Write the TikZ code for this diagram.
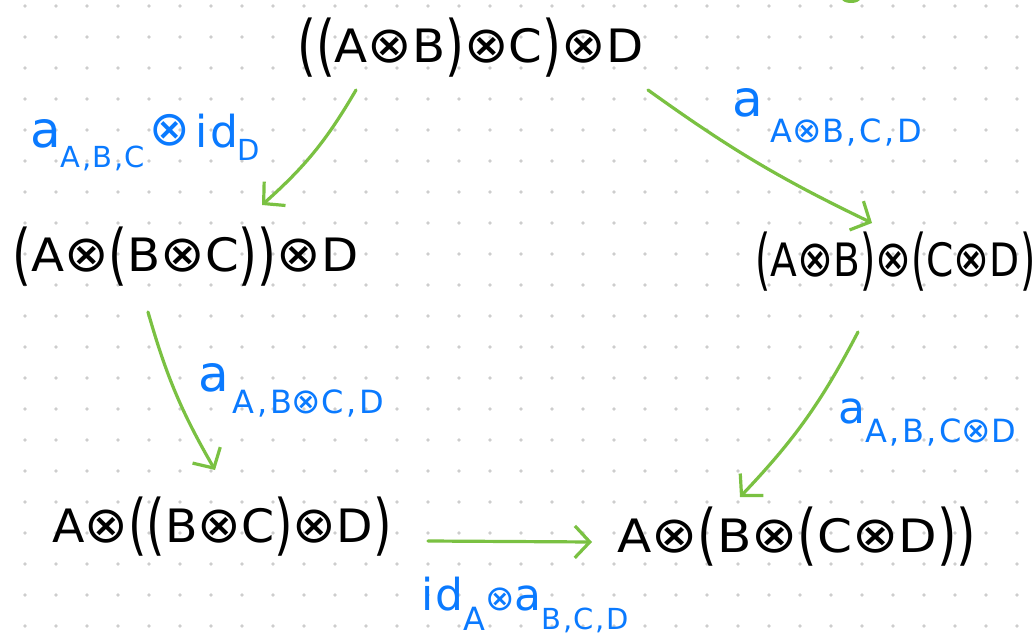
\documentclass[tikz,border=0pt]{standalone}
\usepackage{fontspec}
\setmainfont{DejaVu Sans}
\newfontfamily\hand[LetterSpace=5]{DejaVu Sans}
\newfontfamily\handsub[LetterSpace=8]{DejaVu Sans}
\usepackage{graphicx}
\usetikzlibrary{arrows.meta}
\definecolor{grn}{HTML}{7AC142}
\definecolor{blu}{HTML}{0A7AFF}
\definecolor{dotc}{HTML}{CDCDCD}
\newcommand\ox{\scalebox{1.1}{⊗}}
\newcommand\lp{\raisebox{-0.11em}{\scalebox{1}[1.45]{(}}}
\newcommand\rp{\raisebox{-0.11em}{\scalebox{1}[1.45]{)}}}
\newcommand\bigt{\hand\fontsize{46}{50}\selectfont}
\newcommand\mainsz{\hand\fontsize{50}{54}\selectfont}
\newcommand\midsz{\hand\fontsize{44}{48}\selectfont}
\newcommand\subsz{\handsub\fontsize{32}{34}\selectfont}
\newcommand\smsub{\hand\fontsize{29}{31}\selectfont}
\newcommand\sub[2]{\raisebox{-#1pt}{\subsz #2}}
\begin{document}
\begin{tikzpicture}[x=1pt,y=-1pt,
  nd/.style={inner sep=0pt, anchor=base west, font=\bigt},
  lb/.style={inner sep=0pt, anchor=base west, text=blu},
  arr/.style={draw=grn, line width=3.2pt, line cap=round, -{Straight Barb[length=15pt,width=32pt]}}]
\useasboundingbox (0,0) rectangle (1036,636);
\fill[white] (0,0) rectangle (1036,636);
\foreach \i in {0,...,32} \foreach \j in {0,...,20} \fill[dotc] (25+31*\i, 6+31*\j) circle (1.8);
\fill[grn] (851,-1) ellipse (9 and 4);

\node[nd] (top) at (297,63) {\scalebox{1.05}[1]{\lp\lp A\ox B\rp\ox C\rp\ox D}};
\node[nd] (lft) at (12,272) {\scalebox{1.05}[1]{\lp A\ox\lp B\ox C\rp\rp\ox D}};
\node[nd] (rgt) at (755,277) {\scalebox{0.85}[1]{\lp A\ox B\rp\ox\lp C\ox D\rp}};
\node[nd] (bl) at (52,542) {\scalebox{1.03}[1]{A\ox\lp\lp B\ox C\rp\ox D\rp}};
\node[nd] (br) at (617,552) {\scalebox{1.09}[1]{A\ox\lp B\ox\lp C\ox D\rp\rp}};

\draw[arr] ([shift={(59,27)}]top.base west) to[bend left=9] ([shift={(250,-67)}]lft.base west);
\draw[arr] ([shift={(351,27)}]top.base west) to[bend right=5] ([shift={(117,-54)}]rgt.base west);
\draw[arr] ([shift={(136,40)}]lft.base west) to[bend right=7] ([shift={(163,-72)}]bl.base west);
\draw[arr] ([shift={(103,55)}]rgt.base west) to[bend left=8] ([shift={(123,-55)}]br.base west);
\draw[arr] ([shift={(376,-1)}]bl.base west) -- ([shift={(-25,-10)}]br.base west);

\node[lb] (l1) at (30,148) {{\mainsz a}\raisebox{-20pt}{\smsub A,B,C}\hspace{4pt}{\midsz\raisebox{2pt}{\ox}\hspace{6pt}id}\raisebox{-13pt}{\smsub D}};
\node[lb] (l2) at (732,117) {{\mainsz a}\hspace{8pt}\sub{26}{A\ox B,C,D}};
\node[lb] (l3) at (198,391) {{\mainsz a}\hspace{4pt}\sub{22}{A,B\ox C,D}};
\node[lb] (l4) at (838,423) {{\midsz a}\sub{19}{A,B,C\ox D}};
\node[lb] (l5) at (421,610) {{\midsz id}\sub{20}{A}{\subsz\ox}{\midsz a}\raisebox{-19pt}{\smsub B,C,D}};
\end{tikzpicture}
\end{document}
